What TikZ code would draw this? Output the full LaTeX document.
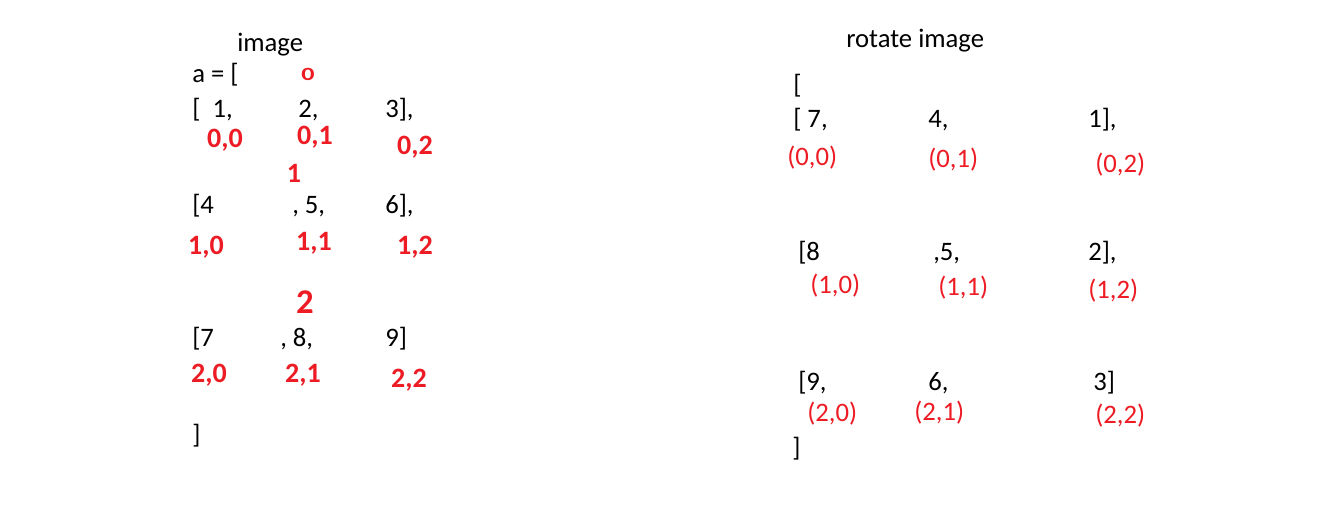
\documentclass[tikz,border=0pt]{standalone}
\usepackage{fontspec}
\setmainfont{Carlito}
\definecolor{penred}{RGB}{237,28,36}
\begin{document}
\begin{tikzpicture}[x=0.75pt,y=-0.75pt,
  txt/.style={anchor=base west,inner sep=0pt,font=\fontsize{20}{24}\selectfont,text=black},
  idx/.style={anchor=base west,inner sep=0pt,font=\fontsize{20}{24}\selectfont,text=penred},
  hand/.style={anchor=center,inner sep=0pt,font=\bfseries\fontsize{21}{24}\selectfont,text=penred}]
\useasboundingbox[fill=white] (0,0) rectangle (1335,511);
% left: image
\node[txt] (t1) at (237,51) {image};
\node[txt] (a0) at (192,82) {a = [};
\node[txt] (l1a) at (192,117) {[\ \ 1,};
\node[txt] (l1b) at (298,117) {2,};
\node[txt] (l1c) at (385,117) {3],};
\node[txt] (l2a) at (192,213) {[4};
\node[txt] (l2b) at (292,213) {, 5,};
\node[txt] (l2c) at (385,213) {6],};
\node[txt] (l3a) at (192,346) {[7};
\node[txt] (l3b) at (280,346) {, 8,};
\node[txt] (l3c) at (385,346) {9]};
\node[txt] (l4) at (192,443) {]};
% handwritten indices
\node[hand,font=\bfseries\fontsize{14}{16}\selectfont,xscale=1.4] (h0) at (308,74) {0};
\node[hand] (h00) at (225,140) {0,0};
\node[hand] (h01) at (315,137) {0,1};
\node[hand] (h02) at (415,147) {0,2};
\node[hand] (h1) at (294,173) {1};
\node[hand] (h10) at (206,247) {1,0};
\node[hand] (h11) at (314,243) {1,1};
\node[hand] (h12) at (415,247) {1,2};
\node[hand,font=\bfseries\fontsize{26}{28}\selectfont] (h2) at (305,302) {2};
\node[hand] (h20) at (209,375) {2,0};
\node[hand] (h21) at (303,375) {2,1};
\node[hand] (h22) at (409,380) {2,2};
% right: rotate image
\node[txt] (t2) at (846,47) {rotate image};
\node[txt] (r0) at (793,93) {[};
\node[txt] (r1a) at (793,127) {[ 7,};
\node[txt] (r1b) at (928,127) {4,};
\node[txt] (r1c) at (1088,127) {1],};
\node[idx] (i00) at (787,165) {(0,0)};
\node[idx] (i01) at (928,167) {(0,1)};
\node[idx] (i02) at (1095,172) {(0,2)};
\node[txt] (r2a) at (798,260) {[8};
\node[txt] (r2b) at (933,260) {,5,};
\node[txt] (r2c) at (1088,260) {2],};
\node[idx] (i10) at (810,293) {(1,0)};
\node[idx] (i11) at (938,295) {(1,1)};
\node[idx] (i12) at (1088,298) {(1,2)};
\node[txt] (r3a) at (798,390) {[9,};
\node[txt] (r3b) at (928,390) {6,};
\node[txt] (r3c) at (1093,390) {3]};
\node[idx] (i20) at (807,421) {(2,0)};
\node[idx] (i21) at (914,420) {(2,1)};
\node[idx] (i22) at (1095,423) {(2,2)};
\node[txt] (r4) at (792,456) {]};
\end{tikzpicture}
\end{document}
